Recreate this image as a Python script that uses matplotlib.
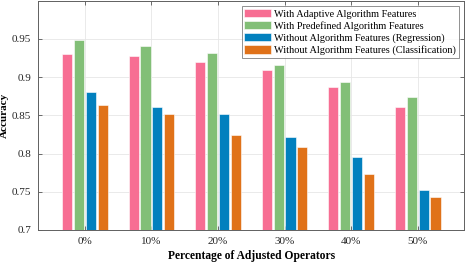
import numpy as np
import matplotlib
matplotlib.use("Agg")
import matplotlib.pyplot as plt

plt.rcParams['font.family'] = ['Liberation Serif', 'DejaVu Serif']

categories = ["0%", "10%", "20%", "30%", "40%", "50%"]
series_names = [
    "With Adaptive Algorithm Features",
    "With Predefined Algorithm Features",
    "Without Algorithm Features (Regression)",
    "Without Algorithm Features (Classification)",
]
adaptive = [0.930, 0.927, 0.920, 0.909, 0.887, 0.861]
predefined = [0.948, 0.940, 0.932, 0.916, 0.893, 0.874]
regression = [0.880, 0.861, 0.852, 0.821, 0.795, 0.752]
classification = [0.864, 0.852, 0.824, 0.808, 0.773, 0.743]
colors = ["#F76E93", "#82BF77", "#0280BE", "#E07219"]

fig = plt.figure(figsize=(4.71, 2.63), dpi=100)
ax = fig.add_axes([0.0813, 0.1255, 0.9045, 0.8725])

x = np.arange(len(categories))
pitch = 0.178
width = 0.152
for i, (vals, name) in enumerate(zip([adaptive, predefined, regression, classification], series_names)):
    ax.bar(x + (i - 1.5) * pitch, vals, width, color=colors[i], label=name,
           edgecolor="white", linewidth=0.4, zorder=3)

ax.set_xlim(-0.7, 5.7)
ax.set_ylim(0.7, 1.0)
ax.set_xticks(x)
ax.set_xticklabels(categories)
ax.set_yticks([0.7, 0.75, 0.8, 0.85, 0.9, 0.95])
ax.set_yticklabels(["0.7", "0.75", "0.8", "0.85", "0.9", "0.95"])
ax.tick_params(direction="in", top=True, right=True, length=3, width=0.6,
               color="#555555", labelcolor="#262626", labelsize=8, pad=5)
for sp in ax.spines.values():
    sp.set_color("#606060")
    sp.set_linewidth(0.7)
ax.grid(True, color="#e6e6e6", linewidth=0.6, zorder=0)
ax.set_axisbelow(True)

ax.set_xlabel("Percentage of Adjusted Operators", fontsize=8.3, fontweight="bold", labelpad=3)
ax.set_ylabel("Accuracy", fontsize=8, fontweight="bold")
ax.yaxis.set_label_coords(-0.068, 0.5)

leg = ax.legend(loc="upper right", fontsize=7.4, frameon=True, fancybox=False,
                handlelength=2.6, handleheight=0.9, handletextpad=0.3,
                labelspacing=0.22, borderpad=0.25, borderaxespad=0.55)
leg.get_frame().set_edgecolor("#606060")
leg.get_frame().set_linewidth(0.6)

fig.savefig("out.png", dpi=100)
